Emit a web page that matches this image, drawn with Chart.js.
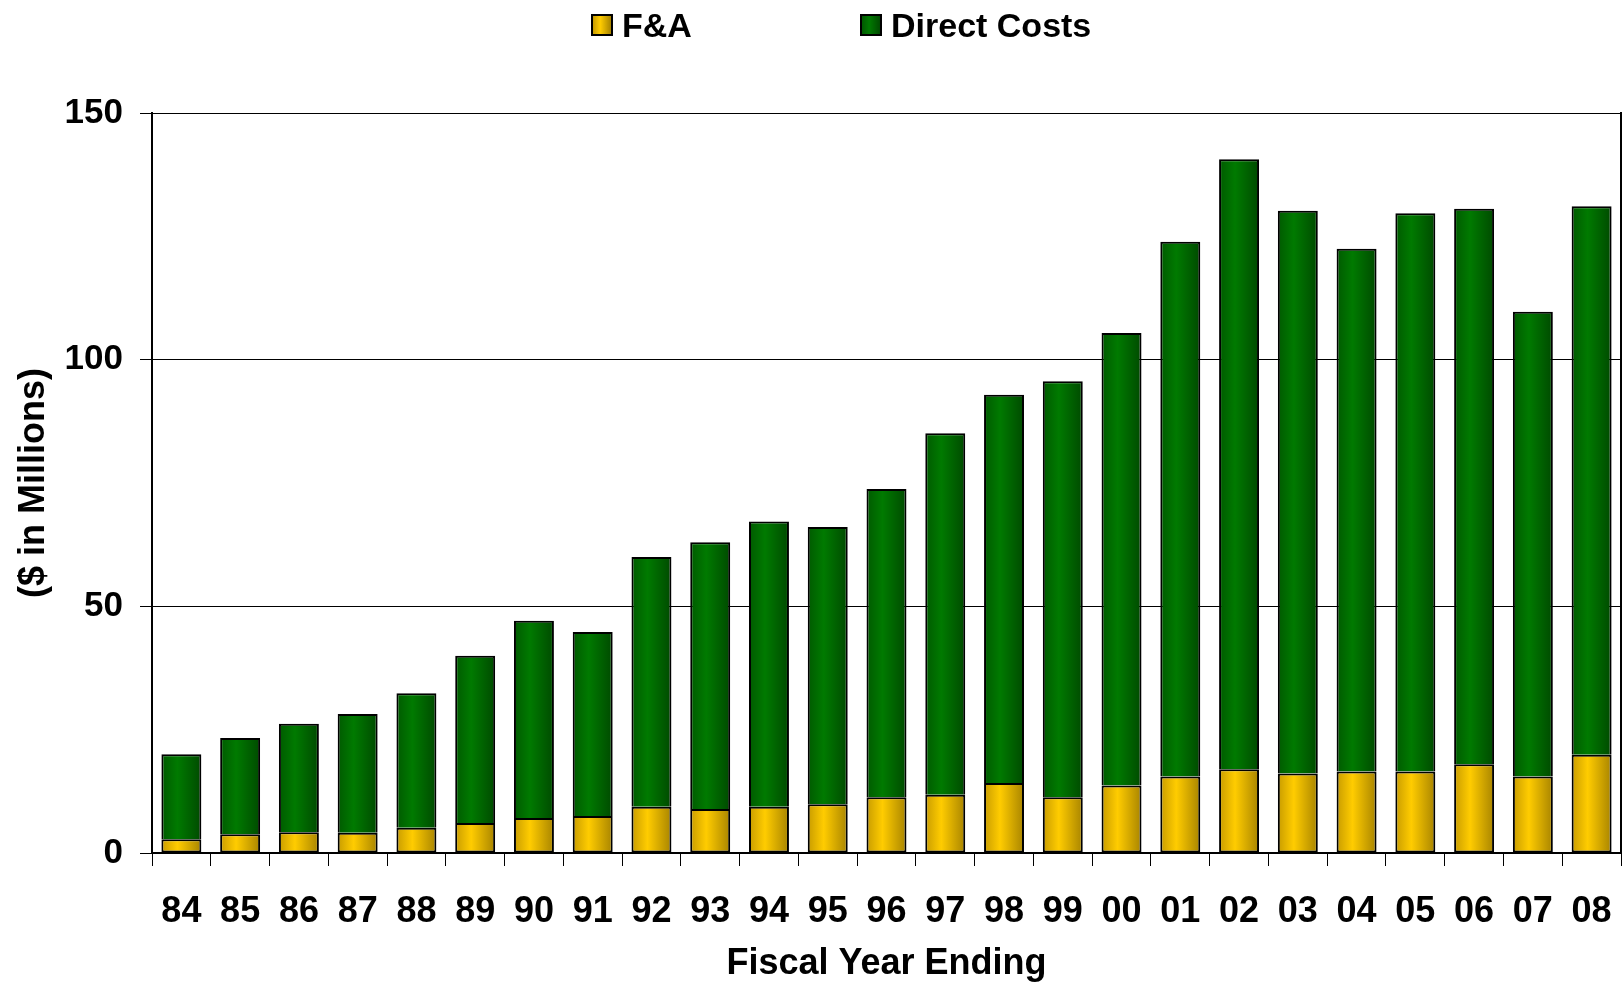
<!DOCTYPE html>
<html>
<head>
<meta charset="utf-8">
<title>F&amp;A and Direct Costs by Fiscal Year</title>
<script src="https://cdn.jsdelivr.net/npm/chart.js@4.4.1/dist/chart.umd.min.js"></script>
<style>
  html, body { margin: 0; padding: 0; background: #fff; }
  #wrap { position: relative; width: 1622px; height: 984px; }
  .key {
    position: absolute; top: 8px; height: 34px;
    display: flex; align-items: center; gap: 9px;
    font: bold 34px "Liberation Sans", Arial, sans-serif; line-height: 34px; color: #000;
  }
  .swatch { width: 22px; height: 22px; box-sizing: border-box; border: 2px solid #000; }
  .swatch.fa { background: linear-gradient(to right, #c89c00, #ffcc00 40%, #a88400); }
  .swatch.dc { background: linear-gradient(to right, #005a00, #007a00 40%, #004a00); }
</style>
</head>
<body>
<div id="wrap">
  <div class="key" style="left:591px"><span class="swatch fa"></span>F&amp;A</div>
  <div class="key" style="left:860px"><span class="swatch dc"></span>Direct Costs</div>
  <canvas id="graph01" width="1622" height="984"></canvas>
</div>
<script>
const years = ['84', '85', '86', '87', '88', '89', '90', '91', '92', '93', '94', '95', '96',
  '97', '98', '99', '00', '01', '02', '03', '04', '05', '06', '07', '08'];

// $ millions
const faValues = [2.8, 3.8, 4.2, 4.1, 5.1, 6.1, 7.1, 7.5, 9.4, 8.9, 9.4, 9.9, 11.3,
  11.8, 14.2, 11.3, 13.7, 15.5, 17.0, 16.1, 16.5, 16.5, 18.0, 15.5, 19.9];
const directValues = [17.2, 19.5, 22.0, 24.1, 27.3, 33.9, 40.0, 37.3, 50.6, 54.1, 57.8, 56.2, 62.5,
  73.3, 78.7, 84.3, 91.7, 108.4, 123.6, 114.1, 106.0, 113.2, 112.6, 94.2, 111.2];

const yTicks = [0, 50, 100, 150];

const BAR_PCT = 0.68;
const FONT = '"Liberation Sans", Arial, sans-serif';

// horizontal shading across each bar, like the original cylinder-ish look
function shade(stops) {
  return function (context) {
    const chart = context.chart;
    const xScale = chart.scales.x;
    if (context.type !== 'data' || !xScale || !chart.chartArea) return stops[1];
    const cx = xScale.getPixelForValue(context.dataIndex);
    const half = xScale.width / years.length * BAR_PCT / 2;
    const g = chart.ctx.createLinearGradient(cx - half, 0, cx + half, 0);
    g.addColorStop(0, stops[0]);
    g.addColorStop(0.4, stops[1]);
    g.addColorStop(1, stops[2]);
    return g;
  };
}

const bar01 = document.getElementById('graph01');

new Chart(bar01, {
  type: 'bar',
  data: {
    labels: years,
    datasets: [
      {
        label: 'F&A',
        data: faValues,
        backgroundColor: shade(['#c89c00', '#ffcc00', '#a88400']),
        borderColor: '#000',
        borderWidth: 2,
        borderSkipped: false,
      },
      {
        label: 'Direct Costs',
        data: directValues,
        backgroundColor: shade(['#005a00', '#007a00', '#004a00']),
        borderColor: '#000',
        borderWidth: 2,
        borderSkipped: 'start',
      },
    ]
  },
  options: {
    responsive: false,
    animation: false,
    layout: { padding: { top: 113, right: 1, left: 0, bottom: 0 } },
    datasets: {
      bar: { barPercentage: BAR_PCT, categoryPercentage: 1 }
    },
    plugins: {
      legend: { display: false },
      tooltip: { enabled: false }
    },
    scales: {
      x: {
        stacked: true,
        afterFit: (scale) => {
          scale.height = 131;
          // labels sit in the middle of the categories, no extra side room needed
          scale.paddingLeft = 0;
          scale.paddingRight = 0;
        },
        grid: {
          drawOnChartArea: false,
          color: '#000',
          lineWidth: 1,
          tickLength: 13
        },
        border: { color: '#000', width: 2 },
        ticks: {
          color: '#000',
          padding: 24,
          maxRotation: 0,
          font: { family: FONT, size: 36, weight: 'bold' }
        },
        title: {
          display: true,
          text: 'Fiscal Year Ending',
          color: '#000',
          padding: { top: 0, bottom: -2 },
          font: { family: FONT, size: 36, weight: 'bold' }
        }
      },
      y: {
        stacked: true,
        min: 0,
        max: 150,
        afterFit: (scale) => { scale.width = 152; },
        afterBuildTicks: (scale) => { scale.ticks = yTicks.map(v => ({ value: v })); },
        grid: {
          color: '#000',
          lineWidth: 1,
          tickLength: 12
        },
        border: { color: '#000', width: 2 },
        ticks: {
          color: '#000',
          padding: 17,
          font: { family: FONT, size: 35, weight: 'bold' }
        },
        title: {
          display: true,
          text: '($ in Millions)',
          color: '#000',
          padding: { top: 12, bottom: 0 },
          font: { family: FONT, size: 36, weight: 'bold' }
        }
      },
      // only there to close the frame on the right
      yRight: {
        position: 'right',
        display: true,
        afterFit: (scale) => { scale.width = 0; },
        grid: { drawOnChartArea: false, drawTicks: false },
        border: { color: '#000', width: 2 },
        ticks: { display: false }
      }
    }
  }
});
</script>
</body>
</html>
